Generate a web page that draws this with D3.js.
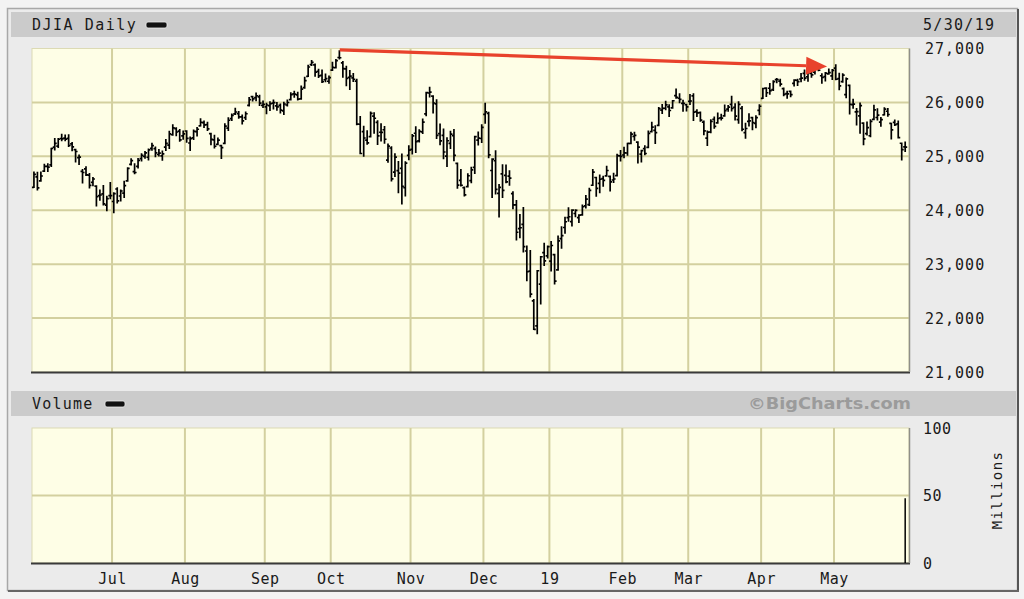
<!DOCTYPE html>
<html><head><meta charset="utf-8">
<script src="https://cdn.jsdelivr.net/npm/d3@7"></script>
<style>
html,body{margin:0;padding:0;background:#f0f0f0;}
svg{display:block;}
.mono{font-family:"DejaVu Sans Mono",monospace;fill:#1a1a1a;}
</style></head>
<body>
<svg id="chart" width="1024" height="599"></svg>
<script>
// ---------- DATA (DJIA daily, 5/30/18 - 5/30/19, one entry per trading day) ----------
const chartTitle = "DJIA Daily";
const lastDate = "5/30/19";
const openValues = [
24426,24620,24543,24724,24815,24842,25171,25190,25331,25338,
25333,25232,25125,24977,24720,24769,24651,24516,24448,24272,
24303,24094,24270,24162,24394,24264,24319,24544,24852,24716,
24812,24957,24997,24983,25147,25142,25034,25010,25172,25207,
25400,25513,25468,25380,25470,25247,25342,25457,25566,25624,
25588,25421,25304,25223,25199,25240,25525,25700,25787,25793,
25731,25717,25945,26106,26088,26104,25946,25917,25938,25988,
25936,25945,25842,25952,26050,26158,26141,26066,26275,26484,
26700,26696,26574,26501,26420,26393,26598,26643,26833,26733,
26622,26464,26455,26396,25595,25458,25300,25366,25744,25628,
25447,25493,24931,25155,24706,24734,24775,24420,25018,25129,
25428,25286,25453,25788,26175,26118,25972,25422,25388,25003,
25240,25384,24869,24553,24421,24437,24548,24795,25301,25331,
25779,25796,24737,24918,24313,24675,24646,24634,24310,24100,
23659,23737,23244,22871,22318,21857,22630,23213,23153,23058,
23177,22894,23474,23680,23864,23788,23940,23865,23914,24080,
24104,24464,24607,24499,24585,24638,24628,24561,24643,25008,
25025,25062,25238,25371,25265,25041,25144,25165,25457,25483,
25574,25858,25892,25917,25899,26126,26077,25983,25959,26019,
26122,25829,25810,25634,25339,25451,25688,25620,25715,25749,
25875,25964,25910,25679,25891,25441,25650,25718,25612,25854,
26076,26264,26263,26237,26423,26395,26257,26162,26206,26354,
26408,26434,26539,26476,26540,26562,26639,26495,26478,26529,
26491,26637,26443,26384,26146,26317,25960,25825,25750,25617,
25421,25382,25684,25720,25635,25770,25836,25610,25630,25601,
25243,25175];
const highValues = [
24702,24697,24705,24847,24856,25146,25326,25325,25402,25388,
25394,25253,25125,25017,24750,24803,24674,24604,24448,24368,
24453,24254,24510,24321,24413,24369,24534,24783,24951,24857,
24954,25041,25082,25131,25236,25168,25122,25093,25307,25459,
25578,25526,25492,25465,25470,25352,25483,25531,25692,25652,
25626,25421,25384,25336,25199,25599,25710,25781,25888,25825,
25763,25817,26086,26108,26167,26128,26019,25980,26007,26041,
25993,25966,25998,26041,26175,26200,26182,26297,26462,26686,
26770,26708,26611,26595,26522,26483,26741,26791,26951,26754,
26666,26588,26531,26424,25732,25552,25468,25815,25805,25656,
25600,25546,25224,25173,25044,24897,25040,24892,25189,25401,
25541,25488,25685,26184,26277,26118,26045,25594,25500,25339,
25460,25491,24870,24752,24427,24670,24790,25366,25445,25580,
25980,25810,24950,25097,24471,24838,24836,24728,24339,24175,
23917,24045,23331,23250,22339,22878,23138,23382,23333,23413,
23177,23518,23688,23864,24040,24002,24005,23909,24091,24269,
24404,24752,24607,24648,24624,24810,24628,24680,25035,25101,
25165,25239,25440,25439,25265,25106,25189,25463,25625,25562,
25902,25956,26015,25950,26031,26242,26155,26036,25959,26143,
26155,25860,25817,25648,25465,25672,25726,25800,25773,25947,
25937,26109,25969,26008,25919,25609,25782,25718,25746,25949,
26259,26267,26343,26398,26438,26425,26262,26202,26208,26414,
26426,26530,26596,26564,26574,26696,26651,26525,26547,26612,
26604,26695,26534,26526,26449,26317,26053,25881,25985,25617,
25630,25672,25944,25879,25716,25894,25882,25610,25666,25652,
25243,25259];
const lowValues = [
24426,24380,24543,24724,24722,24819,25122,25171,25293,25293,
25189,25109,24902,24855,24512,24648,24418,24462,24085,24189,
24102,23997,24221,23961,24140,24179,24241,24544,24847,24681,
24788,24917,24970,24938,25117,24997,25011,24931,25115,25150,
25395,25386,25283,25322,25265,25113,25317,25384,25566,25541,
25487,25222,25162,25220,24965,25240,25487,25670,25780,25711,
25603,25689,25938,26033,26037,25950,25909,25797,25857,25884,
25858,25809,25780,25941,26050,26103,26052,26066,26269,26484,
26688,26492,26467,26374,26389,26359,26598,26643,26811,26474,
26314,26245,26392,25593,25052,25006,25228,25366,25435,25225,
25288,25248,24897,24549,24632,24328,24123,24268,24942,25048,
25075,25271,25431,25758,26107,25810,25335,25222,24959,24818,
25149,24925,24413,24457,24268,24437,24515,24685,25218,25263,
25619,24978,24242,24309,23882,24243,24515,24470,24033,23455,
23496,23231,22698,22397,21792,21713,22267,22982,23118,22879,
22638,22894,23301,23581,23801,23712,23883,23778,23914,24048,
24094,24464,24263,24332,24450,24638,24362,24518,24643,24917,
24977,25025,25238,25304,24883,24901,25034,25165,25457,25245,
25574,25801,25868,25744,25899,26084,25998,25842,25846,25968,
25669,25745,25654,25405,25208,25442,25528,25620,25679,25749,
25841,25848,25679,25621,25480,25340,25567,25497,25538,25775,
26076,26115,26157,26227,26371,26309,26128,26082,26111,26309,
26318,26387,26419,26400,26474,26532,26594,26361,26405,26528,
26432,26427,26242,26378,26091,25791,25897,25587,25432,25222,
25402,25368,25684,25679,25562,25770,25750,25328,25576,25346,
24938,25094];
const closeValues = [
24667,24416,24635,24813,24799,25146,25241,25317,25322,25320,
25201,25175,25090,24987,24700,24657,24461,24580,24252,24283,
24117,24216,24271,24307,24174,24357,24456,24776,24920,24700,
24924,25019,25064,25120,25199,25064,25058,25044,25241,25415,
25527,25451,25307,25415,25333,25327,25463,25502,25629,25583,
25509,25313,25187,25300,25162,25559,25669,25759,25822,25733,
25656,25790,26050,26064,26124,25986,25964,25952,25975,25995,
25917,25857,25971,25998,26145,26154,26062,26246,26405,26657,
26743,26562,26492,26385,26440,26458,26651,26774,26828,26627,
26447,26487,26430,25599,25053,25340,25250,25798,25706,25379,
25444,25317,25191,24583,24984,24688,24443,24875,25116,25380,
25271,25462,25636,26181,26191,25989,25388,25287,25080,25289,
25413,25017,24465,24464,24286,24640,24749,25366,25339,25538,
25826,25027,24947,24389,24423,24370,24527,24597,24101,23592,
23675,23324,22859,22445,21792,22878,23138,23062,23327,23346,
22686,23433,23531,23787,23879,24001,23996,23909,24065,24207,
24370,24706,24404,24575,24553,24737,24528,24580,25014,24999,
25064,25239,25411,25390,25169,25106,25053,25425,25543,25439,
25883,25891,25954,25850,26031,26092,26057,25985,25916,26026,
25819,25806,25673,25473,25450,25650,25554,25702,25709,25848,
25914,25887,25745,25962,25502,25516,25657,25626,25717,25929,
26258,26179,26218,26385,26425,26341,26150,26157,26143,26412,
26384,26452,26449,26559,26511,26656,26597,26462,26543,26554,
26593,26430,26307,26505,26438,25965,25967,25828,25942,25325,
25532,25648,25863,25764,25680,25877,25776,25490,25586,25347,
25126,25169];
// first trading day index of each month, and its label
const monthStartIndex = [23,44,67,86,109,130,149,170,189,210,231];
const monthLabels = ["Jul","Aug","Sep","Oct","Nov","Dec","19","Feb","Mar","Apr","May"];
const priceTicks = [21000,22000,23000,24000,25000,26000,27000];
const volumeTicks = [0,50,100];
// volume (millions): only the last session is shown in the source
const volumeIndex = [251];
const volumeValues = [48];
// annotation arrow: from Oct 3 high to late-April high
const arrowFrom = {i: 88.6, v: 26975};
const arrowTo = {i: 229, v: 26667};

// ---------- DRAW ----------
const svg = d3.select("#chart");
const nDays = closeValues.length;

const x = d3.scaleLinear().domain([0, 252.6]).range([32.2, 909]);
const y = d3.scaleLinear().domain([21000, 27000]).range([372, 48.5]);
const yv = d3.scaleLinear().domain([0, 100]).range([563, 428]);

// outer frame
svg.append("rect").attr("x",0).attr("y",0).attr("width",1024).attr("height",599).attr("fill","#f3f3f3");
svg.append("rect").attr("x",7.5).attr("y",8.5).attr("width",1010).attr("height",582)
  .attr("fill","#ebebeb").attr("stroke","#a8a8a8").attr("stroke-width",1.5);
svg.append("line").attr("x1",1018).attr("x2",1018).attr("y1",9).attr("y2",591).attr("stroke","#555").attr("stroke-width",2);
svg.append("line").attr("x1",8).attr("x2",1019).attr("y1",591).attr("y2",591).attr("stroke","#666").attr("stroke-width",2);

// header bars
svg.append("rect").attr("x",11).attr("y",12).attr("width",1005).attr("height",25).attr("fill","#cbcbcb");
svg.append("rect").attr("x",11).attr("y",391).attr("width",1005).attr("height",25).attr("fill","#cbcbcb");

svg.append("text").attr("class","mono").attr("x",32).attr("y",30)
  .style("font-size","15px").style("letter-spacing","1.5px").text(chartTitle);
svg.append("rect").attr("x",146).attr("y",22).attr("width",21).attr("height",6).attr("rx",2)
  .attr("fill","#111").attr("stroke","#eee").attr("stroke-width",0.8);
svg.append("text").attr("class","mono").attr("x",923).attr("y",30)
  .style("font-size","15px").style("letter-spacing","1.3px").text(lastDate);

svg.append("text").attr("class","mono").attr("x",32).attr("y",409)
  .style("font-size","15px").style("letter-spacing","1.2px").text("Volume");
svg.append("rect").attr("x",105).attr("y",401).attr("width",20).attr("height",6).attr("rx",2)
  .attr("fill","#111").attr("stroke","#eee").attr("stroke-width",0.8);
svg.append("text").attr("x",911).attr("y",409).attr("text-anchor","end")
  .attr("textLength",163).attr("lengthAdjust","spacingAndGlyphs")
  .style("font-family","'DejaVu Sans',sans-serif").style("font-weight","bold")
  .style("font-size","16px").style("fill","#9b9b9b").text("\u00A9BigCharts.com");

// plot backgrounds
const plotFill = "#fefee6", gridCol = "#d3d09f";
svg.append("rect").attr("x",32).attr("y",48.5).attr("width",877).attr("height",323.5).attr("fill",plotFill)
  .attr("stroke","#dcdab4").attr("stroke-width",1);
svg.append("rect").attr("x",32).attr("y",428).attr("width",877).attr("height",135).attr("fill",plotFill)
  .attr("stroke","#dcdab4").attr("stroke-width",1);

// grid lines
const gMain = svg.append("g");
gMain.selectAll("line.h").data(priceTicks.slice(1, -1)).join("line")
  .attr("x1",32).attr("x2",909).attr("y1",d=>y(d)).attr("y2",d=>y(d))
  .attr("stroke",gridCol).attr("stroke-width",2);
gMain.selectAll("line.v").data(monthStartIndex).join("line")
  .attr("x1",d=>x(d)).attr("x2",d=>x(d)).attr("y1",48.5).attr("y2",372)
  .attr("stroke",gridCol).attr("stroke-width",2);
const gVol = svg.append("g");
gVol.selectAll("line.h").data(volumeTicks.slice(1, -1)).join("line")
  .attr("x1",32).attr("x2",909).attr("y1",d=>yv(d)).attr("y2",d=>yv(d))
  .attr("stroke",gridCol).attr("stroke-width",2);
gVol.selectAll("line.v").data(monthStartIndex).join("line")
  .attr("x1",d=>x(d)).attr("x2",d=>x(d)).attr("y1",428).attr("y2",563)
  .attr("stroke",gridCol).attr("stroke-width",2);

// plot frame shadows (bottom/right)
[[372,48.5],[563,428]].forEach(([b,t])=>{
  svg.append("line").attr("x1",31).attr("x2",910).attr("y1",b+0.5).attr("y2",b+0.5).attr("stroke","#3a3a3a").attr("stroke-width",2);
  svg.append("line").attr("x1",909.5).attr("x2",909.5).attr("y1",t).attr("y2",b).attr("stroke","#8f8f88").attr("stroke-width",1.5);
});

// OHLC bars
const bars = d3.range(nDays).map(i => ({i, o:openValues[i], h:highValues[i], l:lowValues[i], c:closeValues[i]}));
svg.append("g").selectAll("path").data(bars).join("path")
  .attr("d", d => {
    const cx = x(d.i + 0.5);
    return `M${cx},${y(d.h)-0.8}V${y(d.l)+0.8}M${cx-2},${y(d.o)}H${cx}M${cx},${y(d.c)}H${cx+2}`;
  })
  .attr("fill","none").attr("stroke","#000").attr("stroke-width",1.7);

// volume bars
svg.append("g").selectAll("line").data(volumeIndex.map((i,k)=>({i, v:volumeValues[k]}))).join("line")
  .attr("x1",d=>x(d.i+0.5)).attr("x2",d=>x(d.i+0.5)).attr("y1",yv(0)).attr("y2",d=>yv(d.v))
  .attr("stroke","#000").attr("stroke-width",1.5);

// right price axis
const fmt = d3.format(",");
const ay = svg.append("g").attr("transform","translate(909,0)")
  .call(d3.axisRight(y).tickValues(priceTicks).tickSize(0).tickPadding(16).tickFormat(fmt));
ay.select(".domain").remove();
ay.selectAll("text").attr("class","mono").style("font-size","15px").style("letter-spacing","1px")
  .attr("font-family",null).attr("dy","0.35em");

// right volume axis
const av = svg.append("g").attr("transform","translate(909,0)")
  .call(d3.axisRight(yv).tickValues(volumeTicks).tickSize(0).tickPadding(14));
av.select(".domain").remove();
av.selectAll("text").attr("class","mono").style("font-size","15px").style("letter-spacing","0.5px")
  .attr("font-family",null).attr("dy","0.35em");
svg.append("text").attr("class","mono").attr("transform","translate(1002,490) rotate(-90)")
  .attr("text-anchor","middle").style("font-size","14px").style("letter-spacing","1.4px").text("Millions");

// bottom month axis
const ax = svg.append("g").attr("transform","translate(0,563)")
  .call(d3.axisBottom(x).tickValues(monthStartIndex).tickSize(0).tickPadding(0)
    .tickFormat((d,k)=>monthLabels[k]));
ax.select(".domain").remove();
ax.selectAll("text").attr("class","mono").style("font-size","15px").style("letter-spacing","0.5px")
  .attr("font-family",null).attr("y",16).attr("dy","0.35em");

// red trend arrow annotation
const ax1 = x(arrowFrom.i), ay1 = y(arrowFrom.v), ax2 = x(arrowTo.i), ay2 = y(arrowTo.v);
const ang = Math.atan2(ay2-ay1, ax2-ax1), headL = 21, headW = 9;
const bx = ax2 - headL*Math.cos(ang), by = ay2 - headL*Math.sin(ang);
svg.append("line").attr("x1",ax1).attr("y1",ay1).attr("x2",bx).attr("y2",by)
  .attr("stroke","#e8422c").attr("stroke-width",3.2);
svg.append("path").attr("d",
  `M${ax2},${ay2}L${bx - headW*Math.sin(ang)},${by + headW*Math.cos(ang)}L${bx + headW*Math.sin(ang)},${by - headW*Math.cos(ang)}Z`)
  .attr("fill","#e8422c");
</script>
</body></html>
